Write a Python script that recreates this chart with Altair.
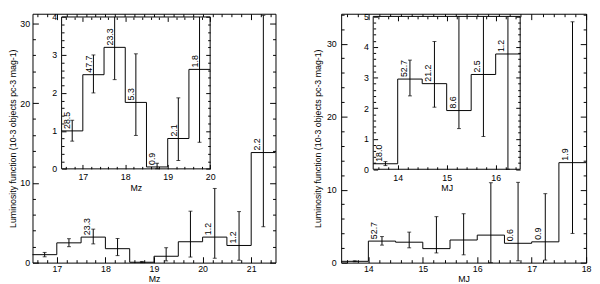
import altair as alt
import pandas as pd
import numpy as np

# ---------------- data ----------------
# Mz luminosity function (left panel)
mz_edges = [16.5, 17.0, 17.5, 18.0, 18.5, 19.0, 19.5, 20.0, 20.5, 21.0, 21.5]
mz_lf = [1.0, 2.48, 3.2, 1.75, 0.05, 0.8, 2.62, 3.2, 2.15, 13.8]
mz_lo = [0.73, 2.0, 2.35, 0.88, 0.0, 0.22, 0.7, 0.55, 0.3, 4.5]
mz_hi = [1.28, 3.0, 4.2, 3.03, 0.15, 1.87, 6.45, 9.3, 6.4, 31.0]
mz_main_lbl_bins = [17.5, 20.0, 20.5, 21.0]
mz_main_lbl_text = ["23.3", "1.2", "1.2", "2.2"]
mz_inset_lbl_bins = [16.5, 17.0, 17.5, 18.0, 18.5, 19.0, 19.5]
mz_inset_lbl_text = ["28.5", "47.7", "23.3", "5.3", "0.9", "2.1", "1.8"]

# MJ luminosity function (right panel)
mj_edges = [13.5, 14.0, 14.5, 15.0, 15.5, 16.0, 16.5, 17.0, 17.5, 18.0]
mj_lf = [0.18, 2.95, 2.8, 1.92, 3.1, 3.77, 2.65, 2.85, 13.7]
mj_lo = [0.12, 2.4, 2.03, 1.33, 1.07, 0.0, 0.25, 0.35, 4.0]
mj_hi = [0.25, 3.57, 4.18, 6.3, 6.7, 10.95, 11.0, 9.45, 33.0]
mj_main_lbl_bins = [14.0, 16.5, 17.0, 17.5]
mj_main_lbl_text = ["52.7", "0.6", "0.9", "1.9"]
mj_inset_lbl_bins = [13.5, 14.0, 14.5, 15.0, 15.5, 16.0]
mj_inset_lbl_text = ["18.0", "52.7", "21.2", "8.6", "2.5", "1.2"]

YTITLE = "Luminosity function (10-3 objects pc-3 mag-1)"

# ---------------- layout ----------------
FONT = "Liberation Sans"
FS = 9
H = 254
TOP = 9              # page y of plot top
PL, WL = 32, 248     # page x of left plot, width
PR, WR = 343, 250    # page x of right plot, width


def tick_vals(lo, hi, step):
    k0 = int(np.ceil(lo / step - 1e-9))
    k1 = int(np.floor(hi / step + 1e-9))
    return [round(k * step, 6) for k in range(k0, k1 + 1)]


def size_cond(major, big, small):
    return {"condition": {"test": f"abs(datum.value/{major} - round(datum.value/{major})) < 1e-6",
                          "value": big}, "value": small}


def tick_axis(orient, offset, vals, major, big, small, z):
    return alt.Axis(orient=orient, offset=offset, values=vals, labels=False, domain=False,
                    grid=False, title=None, ticks=True, tickColor="black", tickWidth=1,
                    tickSize=size_cond(major, big, small), zindex=z)


def label_axis(orient, offset, vals, pad, title, tpad):
    return alt.Axis(orient=orient, offset=offset, values=vals, ticks=False, tickSize=0,
                    domain=False, grid=False, labelPadding=pad, labelFlush=False,
                    labelOverlap=False, format="d", zindex=2, labelFont=FONT,
                    labelFontSize=FS, labelColor="black", titleFont=FONT, titleFontSize=FS,
                    titleFontWeight="normal", titleColor="black", titlePadding=tpad,
                    title=title)


def make_frame(edges, lf, lo, hi, lbl_x, lbl_t, xdom, ydom, box, W, inset,
               xmaj, xmin, ymaj, ymin, xlabels, ylabels, xtitle, ytitle,
               big, small, xpad, ypad, xtpad, ytpad):
    xl, xr, yt, yb = box
    nb = sum(1 for e in edges[:-1] if e < xdom[1] - 1e-9)
    e = edges[:nb + 1]
    v = lf[:nb]
    step_df = pd.DataFrame({"x": e, "y": v + [v[-1]]})
    centers = [(e[i] + e[i + 1]) / 2 for i in range(nb)]
    err_df = pd.DataFrame({"x": centers, "lo": lo[:nb], "hi": hi[:nb]})
    caps = [(c, l) for c, l in zip(centers, lo[:nb])] + \
           [(c, h) for c, h in zip(centers, hi[:nb]) if h <= ydom[1]]
    cap_df = pd.DataFrame(caps, columns=["x", "y"])
    lbl_df = pd.DataFrame({"x": lbl_x, "y": [lf[edges.index(b)] for b in lbl_x], "t": lbl_t})

    if inset:
        xs = alt.Scale(domain=xdom, range=[xl, xr], nice=False, zero=False, clamp=True)
        ys = alt.Scale(domain=ydom, range=[yb, yt], nice=False, zero=False, clamp=True)
        z = 2
    else:
        xs = alt.Scale(domain=xdom, nice=False, zero=False, clamp=True)
        ys = alt.Scale(domain=ydom, nice=False, zero=False, clamp=True)
        z = 0

    xv = tick_vals(xdom[0], xdom[1], xmin)
    yv = tick_vals(ydom[0], ydom[1], ymin)
    ax_x_lab = label_axis("bottom", yb - H, xlabels, xpad, xtitle, xtpad)
    ax_x_bot = tick_axis("top", -yb, xv, xmaj, big, small, z)
    ax_x_top = tick_axis("bottom", yt - H, xv, xmaj, big, small, z)
    ax_y_lab = label_axis("left", -xl, ylabels, ypad, ytitle, ytpad)
    ax_y_lft = tick_axis("right", xl - W, yv, ymaj, big, small, z)
    ax_y_rgt = tick_axis("left", -xr, yv, ymaj, big, small, z)

    layers = []
    if inset:
        box_df = pd.DataFrame({"x": [xdom[0]], "x2": [xdom[1]], "y": [ydom[0]], "y2": [ydom[1]]})
        layers.append(alt.Chart(box_df).mark_rect(fill="white", stroke="black", strokeWidth=1).encode(
            x=alt.X("x:Q", scale=xs, axis=ax_x_lab), x2="x2:Q",
            y=alt.Y("y:Q", scale=ys, axis=ax_y_lab), y2="y2:Q"))
        axes_seq = [(ax_x_bot, ax_y_lft), (ax_x_top, ax_y_rgt), (None, None), (None, None)]
    else:
        axes_seq = [(ax_x_lab, ax_y_lab), (ax_x_bot, ax_y_lft), (ax_x_top, ax_y_rgt), (None, None)]

    (a1x, a1y), (a2x, a2y), (a3x, a3y), (a4x, a4y) = axes_seq

    step = alt.Chart(step_df).mark_line(interpolate="step-after", color="black", strokeWidth=1).encode(
        x=alt.X("x:Q", scale=xs, axis=a1x), y=alt.Y("y:Q", scale=ys, axis=a1y))
    rules = alt.Chart(err_df).mark_rule(color="black", strokeWidth=1).encode(
        x=alt.X("x:Q", scale=xs, axis=a2x), y=alt.Y("lo:Q", scale=ys, axis=a2y), y2="hi:Q")
    capm = alt.Chart(cap_df).mark_tick(orient="horizontal", size=4, thickness=1, color="black").encode(
        x=alt.X("x:Q", scale=xs, axis=a3x), y=alt.Y("y:Q", scale=ys, axis=a3y))
    txt = alt.Chart(lbl_df).mark_text(angle=270, align="left", baseline="top", dx=2, dy=2,
                                      font=FONT, fontSize=FS, color="black").encode(
        x=alt.X("x:Q", scale=xs, axis=a4x), y=alt.Y("y:Q", scale=ys, axis=a4y), text="t:N")
    layers += [step, rules, capm, txt]
    return alt.layer(*layers).resolve_axis(x="independent", y="independent")


left_main = make_frame(mz_edges, mz_lf, mz_lo, mz_hi, mz_main_lbl_bins, mz_main_lbl_text,
                       [16.5, 21.5], [0, 31.2], (0, WL, 0, H), WL, False,
                       1, 0.2, 10, 2, [17, 18, 19, 20, 21], [0, 10, 20, 30], "Mz", YTITLE,
                       6, 3, 2, 3, 1, 2)
left_inset = make_frame(mz_edges, mz_lf, mz_lo, mz_hi, mz_inset_lbl_bins, mz_inset_lbl_text,
                        [16.5, 20.0], [0, 4],
                        (61.7 - PL, 213.3 - PL, 12.3 - TOP, 167.3 - TOP), WL, True,
                        1, 0.2, 1, 0.2, [17, 18, 19, 20], [0, 1, 2, 3, 4], "Mz", None,
                        4.5, 2.5, 4, 5, 2, 2)
right_main = make_frame(mj_edges, mj_lf, mj_lo, mj_hi, mj_main_lbl_bins, mj_main_lbl_text,
                        [13.5, 18.0], [0, 34.1], (0, WR, 0, H), WR, False,
                        1, 0.2, 10, 2, [14, 15, 16, 17, 18], [0, 10, 20, 30], "MJ", YTITLE,
                        6, 3, 2, 5, 1, 4)
right_inset = make_frame(mj_edges, mj_lf, mj_lo, mj_hi, mj_inset_lbl_bins, mj_inset_lbl_text,
                         [13.5, 16.5], [0, 5],
                         (375.7 - PR, 525.7 - PR, 11.7 - TOP, 167.7 - TOP), WR, True,
                         1, 0.2, 1, 0.2, [14, 15, 16], [0, 1, 2, 3, 4, 5], "MJ", None,
                         4.5, 2.5, 4, 5, 2, 2)

left_panel = alt.layer(left_main, left_inset).resolve_scale(
    x="independent", y="independent").properties(width=WL, height=H)
right_panel = alt.layer(right_main, right_inset).resolve_scale(
    x="independent", y="independent").properties(width=WR, height=H)

chart = alt.hconcat(left_panel, right_panel, spacing=35).properties(
    padding={"left": 0, "top": 1, "right": 0, "bottom": 0}, background="white"
).configure_view(stroke="black", strokeWidth=1).configure_axis(grid=False)

chart.save("out.html", embed_options={"renderer": "svg", "actions": False})
